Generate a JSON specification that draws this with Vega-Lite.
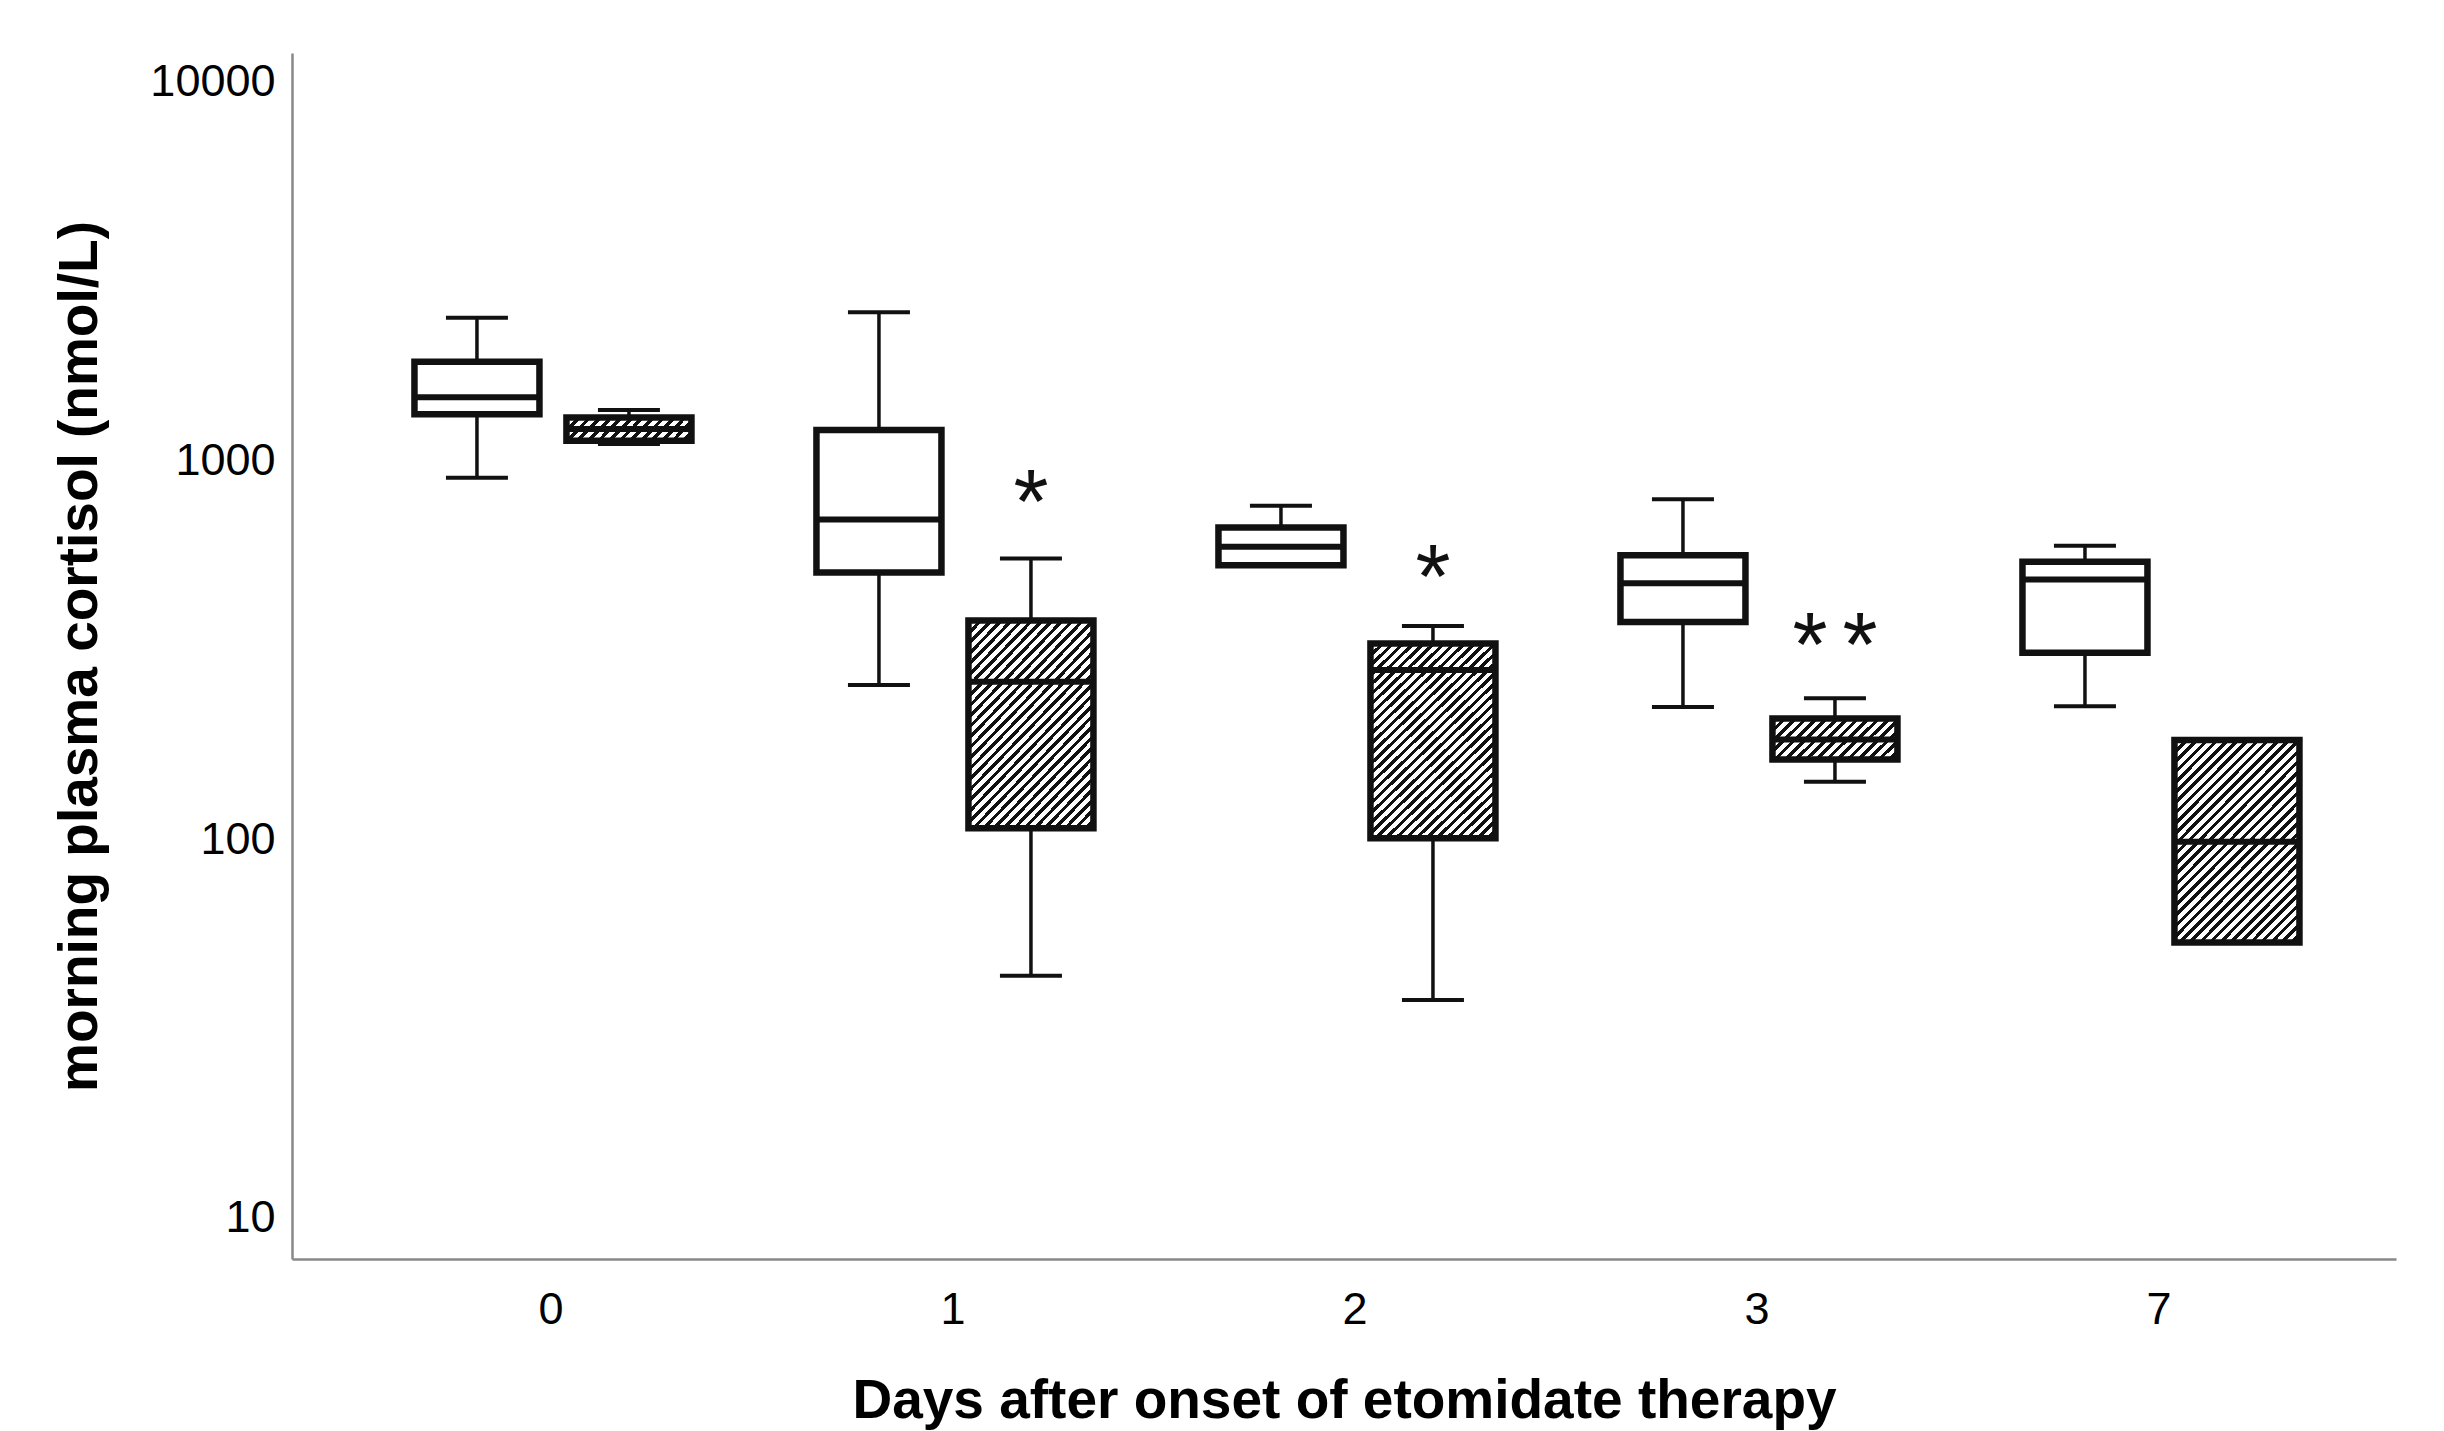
{
  "$schema": "https://vega.github.io/schema/vega-lite/v6.json",
  "width": 2104,
  "height": 1206,
  "autosize": {"type": "none"},
  "padding": {"left": 292, "top": 53, "right": 48, "bottom": 172},
  "background": "white",
  "config": {"view": {"stroke": null}, "font": "Liberation Sans"},
  "data": {"values": [
    {"day": "0", "group": "A", "lower": 898, "q1": 1320, "median": 1464, "q3": 1817, "upper": 2374},
    {"day": "0", "group": "B", "lower": 1102, "q1": 1124, "median": 1207, "q3": 1295, "upper": 1355},
    {"day": "1", "group": "A", "lower": 255, "q1": 505, "median": 697, "q3": 1200, "upper": 2453},
    {"day": "1", "group": "B", "lower": 43.6, "q1": 106.7, "median": 260, "q3": 377, "upper": 550},
    {"day": "2", "group": "A", "lower": 528, "q1": 528, "median": 590, "q3": 664, "upper": 757},
    {"day": "2", "group": "B", "lower": 37.6, "q1": 100.4, "median": 279, "q3": 328, "upper": 365},
    {"day": "3", "group": "A", "lower": 223, "q1": 374, "median": 473, "q3": 561, "upper": 788},
    {"day": "3", "group": "B", "lower": 141.6, "q1": 162, "median": 183, "q3": 208, "upper": 235},
    {"day": "7", "group": "A", "lower": 224, "q1": 310, "median": 484, "q3": 539, "upper": 594},
    {"day": "7", "group": "B", "lower": 53.3, "q1": 53.3, "median": 98.4, "q3": 182.5, "upper": 182.5}
  ]},
  "encoding": {
    "x": {
      "field": "day", "type": "nominal",
      "scale": {"domain": ["0", "1", "2", "3", "7"], "paddingInner": 0, "paddingOuter": 0.1169, "align": 0.617},
      "axis": {
        "title": "Days after onset of etomidate therapy",
        "labelAngle": 0, "ticks": false, "grid": false,
        "domainColor": "#888888", "domainWidth": 2.5,
        "labelFont": "Liberation Sans", "labelFontSize": 45, "labelColor": "#000000", "labelPadding": 28,
        "titleFont": "Liberation Sans", "titleFontSize": 55, "titleFontWeight": "bold", "titleColor": "#000000",
        "titleY": 158, "titleBaseline": "alphabetic"
      }
    },
    "xOffset": {
      "field": "group", "type": "nominal",
      "scale": {"domain": ["A", "B"], "paddingInner": 0, "paddingOuter": 0.3224, "align": 0.52}
    }
  },
  "layer": [
    {
      "mark": {"type": "rule", "strokeWidth": 3.5, "color": "#111111"},
      "encoding": {
        "y": {
          "field": "lower", "type": "quantitative",
          "title": "morning plasma cortisol (nmol/L)",
          "scale": {"type": "log", "domain": [7.795, 11855], "nice": false},
          "axis": {
            "title": "morning plasma cortisol (nmol/L)",
            "values": [10, 100, 1000, 10000], "format": "d",
            "ticks": false, "grid": false,
            "domainColor": "#888888", "domainWidth": 2.5,
            "labelFont": "Liberation Sans", "labelFontSize": 45, "labelColor": "#000000", "labelPadding": 17,
            "titleFont": "Liberation Sans", "titleFontSize": 55, "titleFontWeight": "bold", "titleColor": "#000000",
            "titleX": -196, "titleY": 603, "titleBaseline": "alphabetic", "titleAngle": 270, "titleAlign": "center"
          }
        },
        "y2": {"field": "upper"}
      }
    },
    {
      "mark": {"type": "tick", "size": 62, "thickness": 4, "color": "#111111", "opacity": 1},
      "encoding": {"y": {"field": "lower", "type": "quantitative", "title": "morning plasma cortisol (nmol/L)"}}
    },
    {
      "mark": {"type": "tick", "size": 62, "thickness": 4, "color": "#111111", "opacity": 1},
      "encoding": {"y": {"field": "upper", "type": "quantitative", "title": "morning plasma cortisol (nmol/L)"}}
    },
    {
      "transform": [{"filter": "datum.group === 'A'"}],
      "mark": {"type": "bar", "width": 125, "fill": "#ffffff", "stroke": "#111111", "strokeWidth": 6.5},
      "encoding": {"y": {"field": "q1", "type": "quantitative", "title": "morning plasma cortisol (nmol/L)"}, "y2": {"field": "q3"}}
    },
    {
      "transform": [{"filter": "datum.group === 'B' && (datum.day === '1' || datum.day === '2' || datum.day === '7')"}],
      "mark": {"type": "bar", "width": 125, "stroke": "#111111", "strokeWidth": 6.5,
        "fill": {"gradient": "linear", "x1": 0, "y1": 0, "x2": 0.7266, "y2": 1.1698, "stops": [
          {"offset":0,"color":"#111"},{"offset":0.0140625,"color":"#111"},{"offset":0.0140625,"color":"#fff"},{"offset":0.03125,"color":"#fff"},
          {"offset":0.03125,"color":"#111"},{"offset":0.0453125,"color":"#111"},{"offset":0.0453125,"color":"#fff"},{"offset":0.0625,"color":"#fff"},
          {"offset":0.0625,"color":"#111"},{"offset":0.0765625,"color":"#111"},{"offset":0.0765625,"color":"#fff"},{"offset":0.09375,"color":"#fff"},
          {"offset":0.09375,"color":"#111"},{"offset":0.1078125,"color":"#111"},{"offset":0.1078125,"color":"#fff"},{"offset":0.125,"color":"#fff"},
          {"offset":0.125,"color":"#111"},{"offset":0.1390625,"color":"#111"},{"offset":0.1390625,"color":"#fff"},{"offset":0.15625,"color":"#fff"},
          {"offset":0.15625,"color":"#111"},{"offset":0.1703125,"color":"#111"},{"offset":0.1703125,"color":"#fff"},{"offset":0.1875,"color":"#fff"},
          {"offset":0.1875,"color":"#111"},{"offset":0.2015625,"color":"#111"},{"offset":0.2015625,"color":"#fff"},{"offset":0.21875,"color":"#fff"},
          {"offset":0.21875,"color":"#111"},{"offset":0.2328125,"color":"#111"},{"offset":0.2328125,"color":"#fff"},{"offset":0.25,"color":"#fff"},
          {"offset":0.25,"color":"#111"},{"offset":0.2640625,"color":"#111"},{"offset":0.2640625,"color":"#fff"},{"offset":0.28125,"color":"#fff"},
          {"offset":0.28125,"color":"#111"},{"offset":0.2953125,"color":"#111"},{"offset":0.2953125,"color":"#fff"},{"offset":0.3125,"color":"#fff"},
          {"offset":0.3125,"color":"#111"},{"offset":0.3265625,"color":"#111"},{"offset":0.3265625,"color":"#fff"},{"offset":0.34375,"color":"#fff"},
          {"offset":0.34375,"color":"#111"},{"offset":0.3578125,"color":"#111"},{"offset":0.3578125,"color":"#fff"},{"offset":0.375,"color":"#fff"},
          {"offset":0.375,"color":"#111"},{"offset":0.3890625,"color":"#111"},{"offset":0.3890625,"color":"#fff"},{"offset":0.40625,"color":"#fff"},
          {"offset":0.40625,"color":"#111"},{"offset":0.4203125,"color":"#111"},{"offset":0.4203125,"color":"#fff"},{"offset":0.4375,"color":"#fff"},
          {"offset":0.4375,"color":"#111"},{"offset":0.4515625,"color":"#111"},{"offset":0.4515625,"color":"#fff"},{"offset":0.46875,"color":"#fff"},
          {"offset":0.46875,"color":"#111"},{"offset":0.4828125,"color":"#111"},{"offset":0.4828125,"color":"#fff"},{"offset":0.5,"color":"#fff"},
          {"offset":0.5,"color":"#111"},{"offset":0.5140625,"color":"#111"},{"offset":0.5140625,"color":"#fff"},{"offset":0.53125,"color":"#fff"},
          {"offset":0.53125,"color":"#111"},{"offset":0.5453125,"color":"#111"},{"offset":0.5453125,"color":"#fff"},{"offset":0.5625,"color":"#fff"},
          {"offset":0.5625,"color":"#111"},{"offset":0.5765625,"color":"#111"},{"offset":0.5765625,"color":"#fff"},{"offset":0.59375,"color":"#fff"},
          {"offset":0.59375,"color":"#111"},{"offset":0.6078125,"color":"#111"},{"offset":0.6078125,"color":"#fff"},{"offset":0.625,"color":"#fff"},
          {"offset":0.625,"color":"#111"},{"offset":0.6390625,"color":"#111"},{"offset":0.6390625,"color":"#fff"},{"offset":0.65625,"color":"#fff"},
          {"offset":0.65625,"color":"#111"},{"offset":0.6703125,"color":"#111"},{"offset":0.6703125,"color":"#fff"},{"offset":0.6875,"color":"#fff"},
          {"offset":0.6875,"color":"#111"},{"offset":0.7015625,"color":"#111"},{"offset":0.7015625,"color":"#fff"},{"offset":0.71875,"color":"#fff"},
          {"offset":0.71875,"color":"#111"},{"offset":0.7328125,"color":"#111"},{"offset":0.7328125,"color":"#fff"},{"offset":0.75,"color":"#fff"},
          {"offset":0.75,"color":"#111"},{"offset":0.7640625,"color":"#111"},{"offset":0.7640625,"color":"#fff"},{"offset":0.78125,"color":"#fff"},
          {"offset":0.78125,"color":"#111"},{"offset":0.7953125,"color":"#111"},{"offset":0.7953125,"color":"#fff"},{"offset":0.8125,"color":"#fff"},
          {"offset":0.8125,"color":"#111"},{"offset":0.8265625,"color":"#111"},{"offset":0.8265625,"color":"#fff"},{"offset":0.84375,"color":"#fff"},
          {"offset":0.84375,"color":"#111"},{"offset":0.8578125,"color":"#111"},{"offset":0.8578125,"color":"#fff"},{"offset":0.875,"color":"#fff"},
          {"offset":0.875,"color":"#111"},{"offset":0.8890625,"color":"#111"},{"offset":0.8890625,"color":"#fff"},{"offset":0.90625,"color":"#fff"},
          {"offset":0.90625,"color":"#111"},{"offset":0.9203125,"color":"#111"},{"offset":0.9203125,"color":"#fff"},{"offset":0.9375,"color":"#fff"},
          {"offset":0.9375,"color":"#111"},{"offset":0.9515625,"color":"#111"},{"offset":0.9515625,"color":"#fff"},{"offset":0.96875,"color":"#fff"},
          {"offset":0.96875,"color":"#111"},{"offset":0.9828125,"color":"#111"},{"offset":0.9828125,"color":"#fff"},{"offset":1,"color":"#fff"}
        ]}},
      "encoding": {"y": {"field": "q1", "type": "quantitative", "title": "morning plasma cortisol (nmol/L)"}, "y2": {"field": "q3"}}
    },
    {
      "transform": [{"filter": "datum.group === 'B' && datum.day === '0'"}],
      "mark": {"type": "bar", "width": 125, "stroke": "#111111", "strokeWidth": 6.5,
        "fill": {"gradient": "linear", "x1": 0, "y1": 0, "x2": 1.1452, "y2": 0.2107, "stops": [
          {"offset":0,"color":"#111"},{"offset":0.032143,"color":"#111"},{"offset":0.032143,"color":"#fff"},{"offset":0.071429,"color":"#fff"},
          {"offset":0.071429,"color":"#111"},{"offset":0.103571,"color":"#111"},{"offset":0.103571,"color":"#fff"},{"offset":0.142857,"color":"#fff"},
          {"offset":0.142857,"color":"#111"},{"offset":0.175,"color":"#111"},{"offset":0.175,"color":"#fff"},{"offset":0.214286,"color":"#fff"},
          {"offset":0.214286,"color":"#111"},{"offset":0.246429,"color":"#111"},{"offset":0.246429,"color":"#fff"},{"offset":0.285714,"color":"#fff"},
          {"offset":0.285714,"color":"#111"},{"offset":0.317857,"color":"#111"},{"offset":0.317857,"color":"#fff"},{"offset":0.357143,"color":"#fff"},
          {"offset":0.357143,"color":"#111"},{"offset":0.389286,"color":"#111"},{"offset":0.389286,"color":"#fff"},{"offset":0.428571,"color":"#fff"},
          {"offset":0.428571,"color":"#111"},{"offset":0.460714,"color":"#111"},{"offset":0.460714,"color":"#fff"},{"offset":0.5,"color":"#fff"},
          {"offset":0.5,"color":"#111"},{"offset":0.532143,"color":"#111"},{"offset":0.532143,"color":"#fff"},{"offset":0.571429,"color":"#fff"},
          {"offset":0.571429,"color":"#111"},{"offset":0.603571,"color":"#111"},{"offset":0.603571,"color":"#fff"},{"offset":0.642857,"color":"#fff"},
          {"offset":0.642857,"color":"#111"},{"offset":0.675,"color":"#111"},{"offset":0.675,"color":"#fff"},{"offset":0.714286,"color":"#fff"},
          {"offset":0.714286,"color":"#111"},{"offset":0.746429,"color":"#111"},{"offset":0.746429,"color":"#fff"},{"offset":0.785714,"color":"#fff"},
          {"offset":0.785714,"color":"#111"},{"offset":0.817857,"color":"#111"},{"offset":0.817857,"color":"#fff"},{"offset":0.857143,"color":"#fff"},
          {"offset":0.857143,"color":"#111"},{"offset":0.889286,"color":"#111"},{"offset":0.889286,"color":"#fff"},{"offset":0.928571,"color":"#fff"},
          {"offset":0.928571,"color":"#111"},{"offset":0.960714,"color":"#111"},{"offset":0.960714,"color":"#fff"},{"offset":1,"color":"#fff"}
        ]}},
      "encoding": {"y": {"field": "q1", "type": "quantitative", "title": "morning plasma cortisol (nmol/L)"}, "y2": {"field": "q3"}}
    },
    {
      "transform": [{"filter": "datum.group === 'B' && datum.day === '3'"}],
      "mark": {"type": "bar", "width": 125, "stroke": "#111111", "strokeWidth": 6.5,
        "fill": {"gradient": "linear", "x1": 0, "y1": 0, "x2": 1.2001, "y2": 0.4008, "stops": [
          {"offset":0,"color":"#111"},{"offset":0.028125,"color":"#111"},{"offset":0.028125,"color":"#fff"},{"offset":0.0625,"color":"#fff"},
          {"offset":0.0625,"color":"#111"},{"offset":0.090625,"color":"#111"},{"offset":0.090625,"color":"#fff"},{"offset":0.125,"color":"#fff"},
          {"offset":0.125,"color":"#111"},{"offset":0.153125,"color":"#111"},{"offset":0.153125,"color":"#fff"},{"offset":0.1875,"color":"#fff"},
          {"offset":0.1875,"color":"#111"},{"offset":0.215625,"color":"#111"},{"offset":0.215625,"color":"#fff"},{"offset":0.25,"color":"#fff"},
          {"offset":0.25,"color":"#111"},{"offset":0.278125,"color":"#111"},{"offset":0.278125,"color":"#fff"},{"offset":0.3125,"color":"#fff"},
          {"offset":0.3125,"color":"#111"},{"offset":0.340625,"color":"#111"},{"offset":0.340625,"color":"#fff"},{"offset":0.375,"color":"#fff"},
          {"offset":0.375,"color":"#111"},{"offset":0.403125,"color":"#111"},{"offset":0.403125,"color":"#fff"},{"offset":0.4375,"color":"#fff"},
          {"offset":0.4375,"color":"#111"},{"offset":0.465625,"color":"#111"},{"offset":0.465625,"color":"#fff"},{"offset":0.5,"color":"#fff"},
          {"offset":0.5,"color":"#111"},{"offset":0.528125,"color":"#111"},{"offset":0.528125,"color":"#fff"},{"offset":0.5625,"color":"#fff"},
          {"offset":0.5625,"color":"#111"},{"offset":0.590625,"color":"#111"},{"offset":0.590625,"color":"#fff"},{"offset":0.625,"color":"#fff"},
          {"offset":0.625,"color":"#111"},{"offset":0.653125,"color":"#111"},{"offset":0.653125,"color":"#fff"},{"offset":0.6875,"color":"#fff"},
          {"offset":0.6875,"color":"#111"},{"offset":0.715625,"color":"#111"},{"offset":0.715625,"color":"#fff"},{"offset":0.75,"color":"#fff"},
          {"offset":0.75,"color":"#111"},{"offset":0.778125,"color":"#111"},{"offset":0.778125,"color":"#fff"},{"offset":0.8125,"color":"#fff"},
          {"offset":0.8125,"color":"#111"},{"offset":0.840625,"color":"#111"},{"offset":0.840625,"color":"#fff"},{"offset":0.875,"color":"#fff"},
          {"offset":0.875,"color":"#111"},{"offset":0.903125,"color":"#111"},{"offset":0.903125,"color":"#fff"},{"offset":0.9375,"color":"#fff"},
          {"offset":0.9375,"color":"#111"},{"offset":0.965625,"color":"#111"},{"offset":0.965625,"color":"#fff"},{"offset":1,"color":"#fff"}
        ]}},
      "encoding": {"y": {"field": "q1", "type": "quantitative", "title": "morning plasma cortisol (nmol/L)"}, "y2": {"field": "q3"}}
    },
    {
      "mark": {"type": "tick", "size": 125, "thickness": 6, "color": "#111111", "opacity": 1},
      "encoding": {"y": {"field": "median", "type": "quantitative", "title": "morning plasma cortisol (nmol/L)"}}
    },
    {
      "data": {"values": [
        {"day": "1", "group": "B", "pos": 833, "label": "*"},
        {"day": "2", "group": "B", "pos": 528, "label": "*"},
        {"day": "3", "group": "B", "pos": 349.6, "label": "*\u2006*"}
      ]},
      "mark": {"type": "text", "font": "Liberation Sans", "fontSize": 90, "color": "#111111", "baseline": "middle", "align": "center", "dy": 16},
      "encoding": {
        "y": {"field": "pos", "type": "quantitative", "title": "morning plasma cortisol (nmol/L)"},
        "text": {"field": "label"}
      }
    }
  ]
}
